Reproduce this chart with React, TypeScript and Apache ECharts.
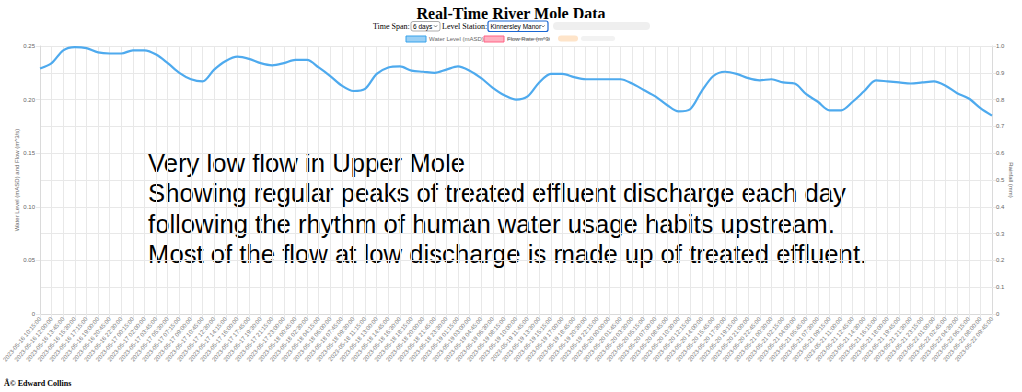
import React, { useEffect, useRef } from "react";
import * as echarts from "echarts";

const timeLabels = [
  "2023-05-16 10:15:00", "2023-05-16 12:00:00", "2023-05-16 13:45:00", "2023-05-16 15:30:00",
  "2023-05-16 17:15:00", "2023-05-16 19:00:00", "2023-05-16 20:45:00", "2023-05-16 22:30:00",
  "2023-05-17 00:15:00", "2023-05-17 02:00:00", "2023-05-17 03:45:00", "2023-05-17 05:30:00",
  "2023-05-17 07:15:00", "2023-05-17 09:00:00", "2023-05-17 10:45:00", "2023-05-17 12:30:00",
  "2023-05-17 14:15:00", "2023-05-17 16:00:00", "2023-05-17 17:45:00", "2023-05-17 19:30:00",
  "2023-05-17 21:15:00", "2023-05-17 23:00:00", "2023-05-18 00:45:00", "2023-05-18 02:30:00",
  "2023-05-18 04:15:00", "2023-05-18 06:00:00", "2023-05-18 07:45:00", "2023-05-18 09:30:00",
  "2023-05-18 11:15:00", "2023-05-18 13:00:00", "2023-05-18 14:45:00", "2023-05-18 16:30:00",
  "2023-05-18 18:15:00", "2023-05-18 20:00:00", "2023-05-18 21:45:00", "2023-05-18 23:30:00",
  "2023-05-19 01:15:00", "2023-05-19 03:00:00", "2023-05-19 04:45:00", "2023-05-19 06:30:00",
  "2023-05-19 08:15:00", "2023-05-19 10:00:00", "2023-05-19 11:45:00", "2023-05-19 13:30:00",
  "2023-05-19 15:15:00", "2023-05-19 17:00:00", "2023-05-19 18:45:00", "2023-05-19 20:30:00",
  "2023-05-19 22:15:00", "2023-05-20 00:00:00", "2023-05-20 01:45:00", "2023-05-20 03:30:00",
  "2023-05-20 05:15:00", "2023-05-20 07:00:00", "2023-05-20 08:45:00", "2023-05-20 10:30:00",
  "2023-05-20 12:15:00", "2023-05-20 14:00:00", "2023-05-20 15:45:00", "2023-05-20 17:30:00",
  "2023-05-20 19:15:00", "2023-05-20 21:00:00", "2023-05-20 22:45:00", "2023-05-21 00:30:00",
  "2023-05-21 02:15:00", "2023-05-21 04:00:00", "2023-05-21 05:45:00", "2023-05-21 07:30:00",
  "2023-05-21 09:15:00", "2023-05-21 11:00:00", "2023-05-21 12:45:00", "2023-05-21 14:30:00",
  "2023-05-21 16:15:00", "2023-05-21 18:00:00", "2023-05-21 19:45:00", "2023-05-21 21:30:00",
  "2023-05-21 23:15:00", "2023-05-22 01:00:00", "2023-05-22 02:45:00", "2023-05-22 04:30:00",
  "2023-05-22 06:15:00", "2023-05-22 08:00:00", "2023-05-22 09:45:00",
];

const waterLevel = [
  0.229, 0.234, 0.246, 0.249, 0.248, 0.244, 0.243, 0.243, 0.246, 0.246,
  0.242, 0.234, 0.225, 0.219, 0.217, 0.228, 0.236, 0.240, 0.238, 0.234,
  0.232, 0.234, 0.237, 0.237, 0.230, 0.222, 0.213, 0.208, 0.210, 0.224,
  0.230, 0.231, 0.227, 0.226, 0.225, 0.228, 0.231, 0.227, 0.220, 0.211,
  0.204, 0.200, 0.203, 0.216, 0.224, 0.224, 0.221, 0.219, 0.219, 0.219,
  0.219, 0.215, 0.209, 0.203, 0.195, 0.189, 0.191, 0.208, 0.222, 0.226,
  0.224, 0.220, 0.218, 0.219, 0.216, 0.215, 0.205, 0.198, 0.190, 0.190,
  0.198, 0.208, 0.218, 0.217, 0.216, 0.215, 0.216, 0.217, 0.213, 0.206,
  0.201, 0.192, 0.185,
];

const legendNames = ["Water Level (mASD)", "Flow Rate (m^3/s)"];
const leftAxisName = "Water Level (mASD) and Flow (m^3/s)";
const rightAxisName = "Rainfall (mm)";
const noteLines = [
  "Very low flow in Upper Mole",
  "Showing regular peaks of treated effluent discharge each day",
  "following the rhythm of human water usage habits upstream.",
  "Most of the flow at low discharge is made up of treated effluent.",
];

const SANS = "'Liberation Sans', Arial, Helvetica, sans-serif";
const SERIF = "'Liberation Serif', 'Times New Roman', serif";

export default function App() {
  const ref = useRef<HTMLDivElement>(null);

  useEffect(() => {
    if (!ref.current) return;
    const chart = echarts.init(ref.current, null, { renderer: "svg" });
    const grid = "#e8e8e8";
    const option: any = {
      animation: false,
      textStyle: { fontFamily: SANS },
      grid: { left: 40, right: 28, top: 46, bottom: 78, containLabel: false },
      xAxis: {
        type: "category",
        data: timeLabels,
        boundaryGap: false,
        axisLine: { show: true, lineStyle: { color: "#dadada", width: 1 } },
        axisTick: { show: true, interval: 0, length: 4, lineStyle: { color: grid } },
        axisLabel: { interval: 0, rotate: 50, fontSize: 6, color: "#777", margin: 4, fontFamily: SANS },
        splitLine: { show: true, interval: 0, lineStyle: { color: grid, width: 1 } },
      },
      yAxis: [
        {
          type: "value",
          min: 0,
          max: 0.25,
          interval: 0.05,
          position: "left",
          name: leftAxisName,
          nameLocation: "middle",
          nameGap: 20,
          nameMoveOverlap: false,
          nameTextStyle: { fontSize: 6, color: "#666", fontFamily: SANS },
          axisLine: { show: true, lineStyle: { color: "#dadada" } },
          axisTick: { show: true, length: 4, lineStyle: { color: grid } },
          axisLabel: {
            fontSize: 6,
            color: "#666",
            margin: 5,
            formatter: (v: number) => (v === 0 ? "0" : v.toFixed(2)),
          },
          splitLine: { show: true, lineStyle: { color: grid } },
        },
        {
          type: "value",
          min: 0,
          max: 1,
          interval: 0.1,
          position: "right",
          name: rightAxisName,
          nameLocation: "middle",
          nameRotate: -90,
          nameGap: 16,
          nameMoveOverlap: false,
          nameTextStyle: { fontSize: 6, color: "#666", fontFamily: SANS },
          axisLine: { show: true, lineStyle: { color: "#dadada" } },
          axisTick: { show: true, length: 4, lineStyle: { color: grid } },
          axisLabel: {
            fontSize: 6,
            color: "#666",
            margin: 4,
            formatter: (v: number) => (v === 0 ? "0" : v.toFixed(1)),
          },
          splitLine: { show: true, lineStyle: { color: grid } },
        },
      ],
      series: [
        {
          name: legendNames[0],
          type: "line",
          yAxisIndex: 0,
          data: waterLevel,
          showSymbol: false,
          smooth: 0.3,
          lineStyle: { color: "#4eaaee", width: 2.2 },
          itemStyle: { color: "#4eaaee" },
        },
      ],
      graphic: [
        {
          type: "text",
          x: 511,
          y: 13,
          style: {
            text: "Real-Time River Mole Data",
            font: `bold 16px ${SERIF}`,
            fill: "#000",
            textAlign: "center",
            textVerticalAlign: "middle",
          },
        },
        {
          type: "text",
          x: 373,
          y: 26.5,
          style: { text: "Time Span:", font: `8px ${SERIF}`, fill: "#000", textVerticalAlign: "middle" },
        },
        {
          type: "rect",
          shape: { x: 411, y: 21.5, width: 29, height: 9.5, r: 2 },
          style: { fill: "#fff", stroke: "#767676", lineWidth: 0.6 },
        },
        {
          type: "text",
          x: 413,
          y: 26.5,
          style: { text: "6 days", font: `6.5px ${SANS}`, fill: "#000", textVerticalAlign: "middle" },
        },
        {
          type: "polyline",
          shape: { points: [[434, 25.3], [435.6, 27], [437.2, 25.3]] },
          style: { stroke: "#333", lineWidth: 0.6, fill: null },
        },
        {
          type: "text",
          x: 442,
          y: 26.5,
          style: { text: "Level Station:", font: `8px ${SERIF}`, fill: "#000", textVerticalAlign: "middle" },
        },
        {
          type: "rect",
          shape: { x: 488, y: 21, width: 60, height: 10.5, r: 2 },
          style: { fill: "#fff", stroke: "#1a66d2", lineWidth: 1.2 },
        },
        {
          type: "text",
          x: 490.5,
          y: 26.5,
          style: { text: "Kinnersley Manor", font: `6.5px ${SANS}`, fill: "#000", textVerticalAlign: "middle" },
        },
        {
          type: "polyline",
          shape: { points: [[541.5, 25.3], [543.1, 27], [544.7, 25.3]] },
          style: { stroke: "#333", lineWidth: 0.6, fill: null },
        },
        {
          type: "rect",
          shape: { x: 406, y: 36, width: 20, height: 6 },
          style: { fill: "rgba(54,162,235,0.5)", stroke: "rgb(54,162,235)", lineWidth: 1 },
        },
        {
          type: "text",
          x: 429,
          y: 39,
          style: { text: legendNames[0], font: `6px ${SANS}`, fill: "#666", textVerticalAlign: "middle" },
        },
        {
          type: "rect",
          shape: { x: 484, y: 36, width: 20, height: 6 },
          style: { fill: "rgba(255,99,132,0.5)", stroke: "rgb(255,99,132)", lineWidth: 1 },
        },
        {
          type: "text",
          x: 507,
          y: 39,
          style: { text: legendNames[1], font: `6px ${SANS}`, fill: "#666", textVerticalAlign: "middle" },
        },
        {
          type: "line",
          shape: { x1: 507, y1: 39, x2: 558, y2: 39 },
          style: { stroke: "#666", lineWidth: 0.6 },
        },
        {
          type: "rect",
          shape: { x: 550, y: 18, width: 120, height: 27.5 },
          style: { fill: "#ffffff" },
        },
        {
          type: "rect",
          shape: { x: 553, y: 22, width: 97, height: 8, r: 4 },
          style: { fill: "#e4e4e4", opacity: 0.6 },
        },
        {
          type: "rect",
          shape: { x: 558, y: 35.5, width: 20, height: 6, r: 3 },
          style: { fill: "#fdd9b2", opacity: 0.7 },
        },
        {
          type: "rect",
          shape: { x: 581, y: 36, width: 34, height: 5, r: 2.5 },
          style: { fill: "#efefef", opacity: 0.8 },
        },
        {
          type: "text",
          x: 148,
          y: 148,
          style: {
            text: noteLines.join("\n"),
            font: `25.7px ${SANS}`,
            lineHeight: 30.3,
            fill: "#000",
            textVerticalAlign: "top",
          },
        },
        {
          type: "text",
          x: 4,
          y: 383,
          style: { text: "Â© Edward Collins", font: `bold 8px ${SERIF}`, fill: "#000", textVerticalAlign: "middle" },
        },
      ],
    };
    chart.setOption(option);
    return () => chart.dispose();
  }, []);

  return (
    <div
      ref={ref}
      style={{ position: "fixed", left: 0, top: 0, width: 1022, height: 392, background: "#fff" }}
    />
  );
}
